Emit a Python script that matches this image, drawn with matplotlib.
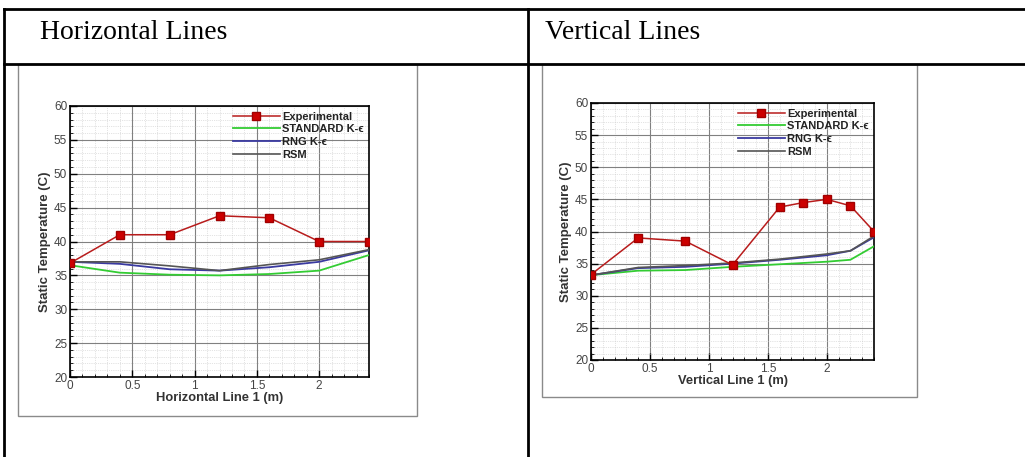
import matplotlib
matplotlib.use("Agg")
import matplotlib.pyplot as plt
from matplotlib.lines import Line2D
from matplotlib.patches import Rectangle
from matplotlib.ticker import MultipleLocator

plt.rcParams['font.family'] = ['Liberation Sans', 'DejaVu Sans']

W, H = 1025, 457

# Horizontal line 1
h_exp_x = [0, 0.4, 0.8, 1.2, 1.6, 2.0, 2.4]
h_exp_y = [36.8, 41.0, 41.0, 43.8, 43.5, 40.0, 40.0]
h_cfd_x = [0, 0.4, 0.8, 1.2, 1.6, 2.0, 2.4]
h_std = [36.5, 35.4, 35.1, 35.0, 35.2, 35.7, 38.0]
h_rng = [37.0, 36.7, 35.9, 35.7, 36.2, 37.0, 38.7]
h_rsm = [37.0, 37.0, 36.4, 35.7, 36.6, 37.3, 38.8]

# Vertical line 1
v_exp_x = [0, 0.4, 0.8, 1.2, 1.6, 1.8, 2.0, 2.2, 2.4]
v_exp_y = [33.3, 39.0, 38.5, 34.8, 43.8, 44.5, 45.0, 44.0, 40.0]
v_cfd_x = [0, 0.4, 0.8, 1.2, 1.6, 2.0, 2.2, 2.4]
v_std = [33.2, 33.9, 34.0, 34.5, 34.9, 35.3, 35.6, 37.7]
v_rng = [33.2, 34.3, 34.5, 35.0, 35.6, 36.3, 37.0, 39.1]
v_rsm = [33.2, 34.4, 34.7, 35.1, 35.7, 36.5, 37.0, 39.3]

labels = ["Experimental", "STANDARD K-\u03f5", "RNG K-\u03f5", "RSM"]
x_ticks = [0, 0.5, 1, 1.5, 2]
x_tick_labels = ["0", "0.5", "1", "1.5", "2"]
y_ticks = [20, 25, 30, 35, 40, 45, 50, 55, 60]


def px_rect(x0, y0, x1, y1):
    return [x0 / W, 1 - y1 / H, (x1 - x0) / W, (y1 - y0) / H]


def make_plot(fig, rect, ex, ey, cx, std, rng, rsm, xlabel):
    ax = fig.add_axes(rect)
    ax.plot(cx, std, color='#33cc33', lw=1.3, label=labels[1], zorder=3)
    ax.plot(cx, rng, color='#3a3aa0', lw=1.3, label=labels[2], zorder=4)
    ax.plot(cx, rsm, color='#555555', lw=1.2, label=labels[3], zorder=5)
    ax.plot(ex, ey, color='#b81c1c', lw=1.1, marker='s', ms=5.5,
            mfc='#cc0000', mec='#a00000', label=labels[0], zorder=6)

    ax.set_xlim(0, 2.4)
    ax.set_ylim(20, 60)
    ax.set_xticks(x_ticks)
    ax.set_xticklabels(x_tick_labels)
    ax.set_yticks(y_ticks)
    ax.xaxis.set_minor_locator(MultipleLocator(0.1))
    ax.yaxis.set_minor_locator(MultipleLocator(1))
    ax.grid(which='major', color='#808080', lw=0.8)
    ax.grid(which='minor', color='#c8c8c8', lw=0.5, ls=':')
    ax.set_axisbelow(True)
    ax.tick_params(which='major', direction='in', length=5, width=1,
                   labelsize=8.5, labelcolor='#444444', pad=2)
    ax.tick_params(which='minor', direction='in', length=2.5, width=0.6)
    for s in ax.spines.values():
        s.set_linewidth(1.2)
    ax.set_ylabel("Static Temperature (C)", fontsize=9.5, fontweight='bold',
                  color='#333333', labelpad=2)
    ax.set_xlabel(xlabel, fontsize=9.3, fontweight='bold', color='#333333',
                  labelpad=0)

    handles, labs = ax.get_legend_handles_labels()
    order = [3, 0, 1, 2]
    leg = ax.legend([handles[i] for i in order], [labs[i] for i in order],
                    loc='upper right', frameon=False,
                    handlelength=4.2, handletextpad=0.2, labelspacing=0.25,
                    borderaxespad=0.2, borderpad=0.3,
                    prop={'weight': 'bold', 'size': 8})
    for t in leg.get_texts():
        t.set_color('#222222')
    return ax


fig = plt.figure(figsize=(W / 100, H / 100), dpi=100)

# table lines
lw = 2.0
fig.add_artist(Line2D([4 / W, 1], [1 - 9 / H, 1 - 9 / H], color='black', lw=lw))
fig.add_artist(Line2D([4 / W, 1], [1 - 64 / H, 1 - 64 / H], color='black', lw=lw))
fig.add_artist(Line2D([4 / W, 4 / W], [0, 1 - 9 / H], color='black', lw=lw))
fig.add_artist(Line2D([528 / W, 528 / W], [0, 1 - 9 / H], color='black', lw=lw))

fig.text(40 / W, 1 - 39 / H, "Horizontal Lines", fontsize=20,
         family=['Liberation Serif', 'DejaVu Serif'])
fig.text(545 / W, 1 - 39 / H, "Vertical Lines", fontsize=20,
         family=['Liberation Serif', 'DejaVu Serif'])

# picture frames
for x0, y0, x1, y1 in [(18, 64, 417, 416), (542, 64, 917, 397)]:
    r = px_rect(x0, y0, x1, y1)
    fig.add_artist(Rectangle((r[0], r[1]), r[2], r[3], transform=fig.transFigure,
                             fill=False, edgecolor='#8a8a8a', lw=1.0))

make_plot(fig, px_rect(70, 106, 369, 377), h_exp_x, h_exp_y, h_cfd_x,
          h_std, h_rng, h_rsm, "Horizontal Line 1 (m)")
make_plot(fig, px_rect(591, 103, 874, 360), v_exp_x, v_exp_y, v_cfd_x,
          v_std, v_rng, v_rsm, "Vertical Line 1 (m)")

fig.savefig("out.png", dpi=100)
